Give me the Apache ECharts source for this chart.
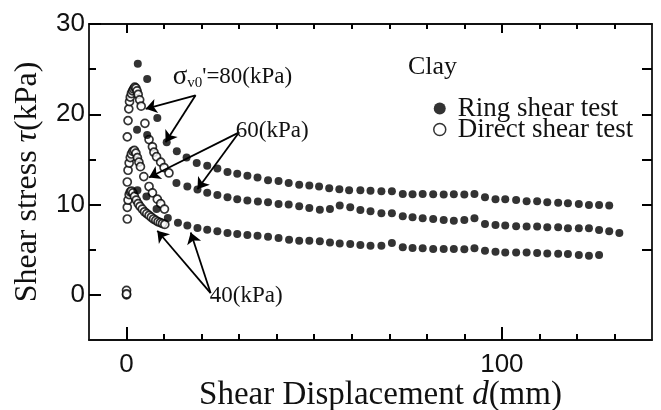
<!DOCTYPE html>
<html>
<head>
<meta charset="utf-8">
<script src="https://cdn.jsdelivr.net/npm/echarts@6/dist/echarts.min.js"></script>
<style>
html,body{margin:0;padding:0;background:#fff;}
#c{width:661px;height:410px;}
</style>
</head>
<body>
<div id="c"></div>
<script>
// Ring shear test (solid dots): [displacement d (mm), shear stress tau (kPa)]
var ring80 = [[3.0,25.6],[5.5,23.9],[8.2,19.6],[10.7,16.9],[13.4,15.9],[16.0,15.2],[18.7,14.6],[21.5,14.3],[24.2,14.0],[26.9,13.6],[29.5,13.4],[32.2,13.2],[34.9,13.0],[37.7,12.7],[40.5,12.6],[43.2,12.4],[46.0,12.2],[48.7,12.1],[51.3,12.0],[54.0,11.8],[56.7,11.7],[59.3,11.6],[62.3,11.58],[65.0,11.52],[67.9,11.48],[70.7,11.48],[73.6,11.18],[76.2,11.15],[78.9,11.18],[81.7,11.15],[84.5,11.12],[87.2,11.15],[90.0,11.12],[92.7,11.18],[95.5,10.81],[98.3,10.6],[100.9,10.6],[103.8,10.52],[106.6,10.37],[109.4,10.37],[112.1,10.26],[115.0,10.19],[117.6,10.15],[120.5,10.07],[123.2,9.96],[125.9,9.96],[128.6,9.89]];
var ring60 = [[2.8,18.3],[5.5,17.7],[13.3,12.4],[16.2,12.0],[18.9,11.67],[21.5,11.3],[24.2,11.07],[26.9,10.8],[29.5,10.6],[32.2,10.44],[35.0,10.33],[37.7,10.26],[40.5,10.07],[43.2,10.0],[46.0,9.81],[48.7,9.63],[51.5,9.44],[54.2,9.52],[56.8,9.89],[59.6,9.7],[62.3,9.4],[65.0,9.25],[67.9,9.04],[70.7,9.04],[73.6,8.7],[76.2,8.59],[78.9,8.48],[81.7,8.41],[84.5,8.30],[87.2,8.22],[90.0,8.30],[92.7,8.48],[95.5,7.85],[98.3,7.74],[100.9,7.67],[103.8,7.59],[106.6,7.56],[109.4,7.56],[112.1,7.48],[115.0,7.48],[117.6,7.37],[120.5,7.37],[123.2,7.37],[125.9,7.19],[128.6,7.04],[131.3,6.85]];
var ring40 = [[2.9,11.6],[5.3,10.9],[8.0,9.5],[11.0,8.5],[13.7,8.0],[16.2,7.67],[18.9,7.4],[21.5,7.2],[24.2,7.04],[26.9,6.85],[29.5,6.74],[32.2,6.63],[34.9,6.56],[37.7,6.44],[40.5,6.3],[43.3,6.1],[46.0,6.0],[48.7,6.0],[51.5,5.93],[54.2,5.8],[56.8,5.7],[59.6,5.63],[62.3,5.52],[65.0,5.44],[67.9,5.44],[70.7,5.74],[73.6,5.26],[76.2,5.19],[78.9,5.15],[81.7,5.07],[84.5,5.07],[87.2,5.07],[90.0,5.04],[92.7,5.15],[95.5,4.89],[98.3,4.78],[100.9,4.70],[103.8,4.70],[106.6,4.70],[109.4,4.63],[112.1,4.59],[115.0,4.55],[117.6,4.52],[120.5,4.41],[123.2,4.33],[125.9,4.41]];

// Direct shear test (open circles)
var direct80 = [[0,0.5],[0.2,17.5],[0.4,19.3],[0.6,20.6],[0.8,21.4],[1.0,21.9],[1.3,22.3],[1.6,22.6],[1.9,22.8],[2.2,23.0],[2.5,22.9],[2.8,22.6],[3.1,22.2],[3.5,21.6],[3.9,20.9],[4.9,19.0],[6.0,17.2],[6.9,16.4],[7.3,15.8],[8.0,15.3],[9.1,14.7],[10.0,14.1],[11.3,13.5]];
var direct60 = [[0,0],[0.2,12.5],[0.4,13.8],[0.7,14.6],[1.0,15.2],[1.3,15.6],[1.7,15.9],[2.1,16.0],[2.5,15.7],[2.9,15.2],[3.3,14.7],[3.7,14.2],[4.6,13.1],[6.0,12.0],[6.9,11.3],[8.2,10.6],[9.1,10.1],[10.1,9.5]];
var direct40 = [[0,0.1],[0.2,8.4],[0.2,9.7],[0.4,10.5],[0.7,11.1],[1.0,11.4],[1.3,11.5],[1.7,11.3],[2.1,10.9],[2.6,10.5],[3.1,10.1],[3.6,9.8],[4.2,9.5],[4.8,9.2],[5.4,9.0],[6.0,8.8],[6.6,8.6],[7.2,8.4],[7.8,8.25],[8.4,8.1],[9.0,8.0],[9.6,7.9],[10.2,7.8]];

// Axis ticks and labels
var xMajor = [0, 100];
var xMinor = [10,20,30,40,50,60,70,80,90,110,120,130];
var yMajor = [0, 10, 20, 30];
var yMinor = [5, 15, 25];
var yRight = [5, 10, 15, 20, 25];

// Annotation text anchors and arrows [from, to] in data units
var labels80 = {at:[12.3,24.1]};
var labels60 = {at:[29.1,18.1]};
var labels40 = {at:[22.2,-0.1]};
var arrows = [
  [[18.4,22.1],[5.1,20.6]],
  [[18.4,22.1],[10.4,16.9]],
  [[30.0,18.0],[6.0,13.0]],
  [[30.0,18.0],[18.9,11.7]],
  [[22.4,0.2],[8.2,7.1]],
  [[22.4,0.2],[17.1,6.9]]
];

var SERIF = 'Liberation Serif, Times New Roman, serif';
var SANS = 'Liberation Sans, Arial, sans-serif';
var chart = echarts.init(document.getElementById('c'), null, {renderer:'canvas'});

function tickAxis(pos, min, max, values, len){
  return {
    type:'value', min:min, max:max, position:pos,
    splitLine:{show:false},
    axisLine:{show:false, onZero:false},
    axisLabel:{show:false},
    axisTick:{show:true, inside:true, length:len, customValues:values, lineStyle:{color:'#000', width:2}}
  };
}

var ringStyle = {color:'#000'};
var directStyle = {color:'#fff', borderColor:'#000', borderWidth:1.7};

var option = {
  animation:false,
  backgroundColor:'#fff',
  title:{text:'Clay', left:403, top:49, textStyle:{fontFamily:SERIF, fontSize:26, fontWeight:'normal', color:'#111'}},
  legend:{
    orient:'vertical', left:428, top:90, itemGap:-6, itemWidth:12, itemHeight:12,
    textStyle:{fontFamily:SERIF, fontSize:27, color:'#111', padding:[0,0,0,7]},
    data:[
      {name:'Ring shear test', icon:'circle', itemStyle:{color:'#000'}},
      {name:'Direct shear test', icon:'circle', itemStyle:{color:'#fff', borderColor:'#000', borderWidth:1.5}}
    ],
    selectedMode:false
  },
  grid:{left:89, right:9, top:24, bottom:70, containLabel:false, outerBoundsMode:'none'},
  xAxis:[
    {type:'value', min:-10, max:140, position:'bottom', splitLine:{show:false},
      axisLine:{show:true, onZero:false, lineStyle:{color:'#111', width:1.8}},
      axisTick:{show:true, inside:true, length:13, customValues:xMajor, lineStyle:{color:'#000', width:2}},
      axisLabel:{show:true, customValues:xMajor, margin:12, fontFamily:SANS, fontSize:26, color:'#111'},
      name:'Shear Displacement {i|d}(mm)', nameLocation:'middle', nameGap:39, nameMoveOverlap:false,
      nameTextStyle:{fontFamily:SERIF, fontSize:33, color:'#111', padding:[0,0,0,20], rich:{i:{fontStyle:'italic', fontFamily:SERIF, fontSize:33}}}
    },
    tickAxis('bottom', -10, 140, xMinor, 6),
    {type:'value', min:-10, max:140, position:'top', splitLine:{show:false},
      axisLine:{show:true, onZero:false, lineStyle:{color:'#111', width:1.8}},
      axisLabel:{show:false},
      axisTick:{show:true, inside:true, length:9, customValues:xMajor, lineStyle:{color:'#000', width:2}}},
    tickAxis('top', -10, 140, xMinor, 5)
  ],
  yAxis:[
    {type:'value', min:-5, max:30, position:'left', splitLine:{show:false},
      axisLine:{show:true, onZero:false, lineStyle:{color:'#111', width:1.8}},
      axisTick:{show:true, inside:true, length:12, customValues:yMajor, lineStyle:{color:'#000', width:2}},
      axisLabel:{show:true, customValues:yMajor, margin:4, fontFamily:SANS, fontSize:26, color:'#111'},
      name:'Shear stress {i|τ}(kPa)', nameLocation:'middle', nameGap:45,
      nameTextStyle:{fontFamily:SERIF, fontSize:32, color:'#111', rich:{i:{fontStyle:'italic', fontFamily:SERIF, fontSize:32}}}
    },
    tickAxis('left', -5, 30, yMinor, 7),
    {type:'value', min:-5, max:30, position:'right', splitLine:{show:false},
      axisLine:{show:true, onZero:false, lineStyle:{color:'#111', width:1.8}},
      axisLabel:{show:false},
      axisTick:{show:true, inside:true, length:10, customValues:yRight, lineStyle:{color:'#000', width:2}}}
  ],
  series:[
    {name:'Direct shear test', type:'scatter', data:direct80, symbol:'circle', symbolSize:8, itemStyle:directStyle, z:2},
    {name:'Direct shear test', type:'scatter', data:direct60, symbol:'circle', symbolSize:8, itemStyle:directStyle, z:2},
    {name:'Direct shear test', type:'scatter', data:direct40, symbol:'circle', symbolSize:8, itemStyle:directStyle, z:2},
    {name:'Ring shear test', type:'scatter', data:ring80, symbol:'circle', symbolSize:8, itemStyle:ringStyle, z:3,
      markLine:{silent:true, symbol:['none','arrow'], symbolSize:11, precision:2,
        label:{show:false}, lineStyle:{color:'#000', width:1.8, type:'solid'},
        itemStyle:{color:'#000'},
        data: arrows.map(function(a){return [{coord:a[0]},{coord:a[1]}];})
      },
      markPoint:{silent:true, symbol:'circle', symbolSize:0,
        label:{show:true, position:'right', distance:0, color:'#111', fontFamily:SERIF, fontSize:23},
        data:[
          {coord:labels80.at, label:{formatter:'{s|σ}{sub|v0}{t|\'=80(kPa)}', rich:{
            s:{fontFamily:SERIF, fontSize:27, color:'#111'},
            sub:{fontFamily:SERIF, fontSize:15, color:'#111', padding:[12,0,0,0]},
            t:{fontFamily:SERIF, fontSize:23, color:'#111'}}}},
          {coord:labels60.at, label:{formatter:'60(kPa)'}},
          {coord:labels40.at, label:{formatter:'40(kPa)'}}
        ]}
    },
    {name:'Ring shear test', type:'scatter', data:ring60, symbol:'circle', symbolSize:8, itemStyle:ringStyle, z:3},
    {name:'Ring shear test', type:'scatter', data:ring40, symbol:'circle', symbolSize:8, itemStyle:ringStyle, z:3}
  ]
};
chart.setOption(option);
</script>
</body>
</html>
